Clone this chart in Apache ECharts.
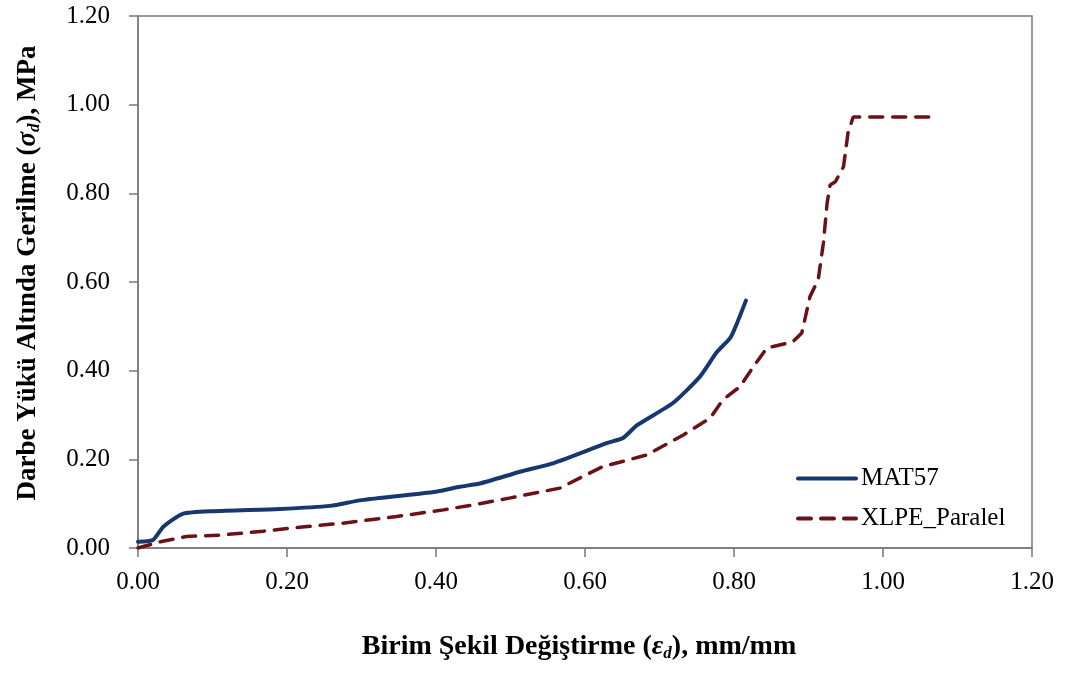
<!DOCTYPE html>
<html>
<head>
<meta charset="utf-8">
<script src="https://cdn.jsdelivr.net/npm/echarts@6/dist/echarts.min.js"></script>
<style>
  html, body { margin: 0; padding: 0; background: #fff; }
  #chart { width: 1074px; height: 673px; }
</style>
</head>
<body>
<div id="chart"></div>
<script>
// MAT57 curve (strain, stress)
var mat57X = [0.00, 0.02, 0.034, 0.06, 0.10, 0.19, 0.258, 0.30, 0.40, 0.432, 0.46, 0.513, 0.557, 0.63, 0.651, 0.67, 0.718, 0.754, 0.777, 0.795, 0.804, 0.816];
var mat57Y = [0.014, 0.018, 0.048, 0.077, 0.083, 0.088, 0.095, 0.108, 0.127, 0.138, 0.146, 0.172, 0.191, 0.237, 0.248, 0.277, 0.327, 0.386, 0.442, 0.474, 0.507, 0.558];

// XLPE_Paralel curve
var xlpeX = [0.00, 0.03, 0.065, 0.11, 0.168, 0.213, 0.275, 0.347, 0.41, 0.456, 0.50, 0.566, 0.623, 0.683, 0.732, 0.768, 0.785, 0.808, 0.826, 0.844, 0.879, 0.891, 0.902, 0.913, 0.92, 0.925, 0.929, 0.936, 0.947, 0.953, 0.96, 1.066];
var xlpeY = [0.000, 0.014, 0.026, 0.029, 0.038, 0.046, 0.056, 0.071, 0.086, 0.099, 0.113, 0.135, 0.183, 0.210, 0.255, 0.293, 0.334, 0.364, 0.409, 0.451, 0.465, 0.485, 0.567, 0.605, 0.688, 0.778, 0.819, 0.826, 0.860, 0.936, 0.972, 0.972];

var seriesNames = ["MAT57", "XLPE_Paralel"];
var colors = ["#17386f", "#6b1216"];

function pairs(xs, ys) {
  return xs.map(function (x, i) { return [x, ys[i]]; });
}

var font = "'Liberation Serif', 'Times New Roman', serif";
var chart = echarts.init(document.getElementById("chart"));

function nameRich(size) {
  return {
    b: { fontFamily: font, fontWeight: "bold", fontSize: size, color: "#000" },
    i: { fontFamily: font, fontWeight: "bold", fontStyle: "italic", fontSize: size, color: "#000" },
    s: { fontFamily: font, fontWeight: "bold", fontStyle: "italic", fontSize: Math.round(size * 0.62), color: "#000", verticalAlign: "bottom", padding: [Math.round(size * 0.48), 0, 0, 0] }
  };
}

chart.setOption({
  animation: false,
  grid: {
    left: 138,
    right: 42,
    top: 16,
    bottom: 125,
    outerBoundsMode: "none",
    containLabel: false,
    show: true,
    borderColor: "#7a7a7a",
    borderWidth: 1.5
  },
  legend: {
    orient: "vertical",
    left: 791,
    top: 461,
    itemWidth: 58,
    itemHeight: 14,
    itemGap: 15,
    itemStyle: { opacity: 0 },
    textStyle: { fontFamily: font, fontSize: 25, color: "#000" },
    data: [
      { name: seriesNames[0], lineStyle: { width: 4 } },
      { name: seriesNames[1], lineStyle: { width: 4 } }
    ]
  },
  xAxis: {
    type: "value",
    min: 0,
    max: 1.2,
    interval: 0.2,
    name: "{b|Birim Şekil Değiştirme (}{i|ε}{s|d}{b|), mm/mm}",
    nameLocation: "middle",
    nameGap: 84,
    nameTextStyle: { rich: nameRich(28), padding: [0, 12, 0, 0] },
    axisLine: { lineStyle: { color: "#7a7a7a", width: 1.5 } },
    axisTick: { inside: false, length: 9, lineStyle: { color: "#7a7a7a", width: 1.5 } },
    axisLabel: {
      margin: 22,
      fontFamily: font,
      fontSize: 25,
      color: "#000",
      formatter: function (v) { return v.toFixed(2); }
    },
    splitLine: { show: false }
  },
  yAxis: {
    type: "value",
    min: 0,
    max: 1.2,
    interval: 0.2,
    name: "{b|Darbe Yükü Altında Gerilme (}{i|σ}{s|d}{b|), MPa}",
    nameLocation: "middle",
    nameGap: 95,
    nameTextStyle: { rich: nameRich(27), padding: [0, 0, 0, 18] },
    axisLine: { show: true, lineStyle: { color: "#7a7a7a", width: 1.5 } },
    axisTick: { show: true, inside: false, length: 9, lineStyle: { color: "#7a7a7a", width: 1.5 } },
    axisLabel: {
      margin: 28,
      fontFamily: font,
      fontSize: 25,
      color: "#000",
      formatter: function (v) { return v.toFixed(2); }
    },
    splitLine: { show: false }
  },
  series: [
    {
      name: seriesNames[0],
      type: "line",
      data: pairs(mat57X, mat57Y),
      showSymbol: false,
      symbol: "none",
      smooth: 0.2,
      lineStyle: { color: colors[0], width: 4, cap: "round" },
      itemStyle: { color: colors[0] }
    },
    {
      name: seriesNames[1],
      type: "line",
      data: pairs(xlpeX, xlpeY),
      showSymbol: false,
      symbol: "none",
      lineStyle: { color: colors[1], width: 3.5, type: [13, 10], cap: "round" },
      itemStyle: { color: colors[1] }
    }
  ]
});
</script>
</body>
</html>
